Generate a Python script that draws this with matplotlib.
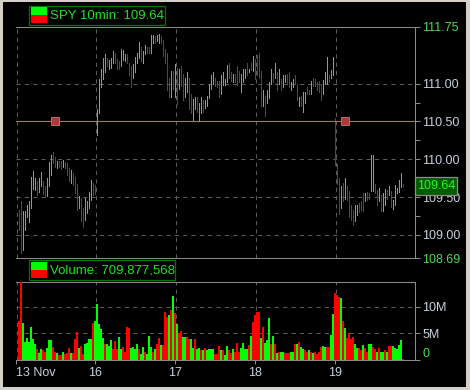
import matplotlib
matplotlib.use("Agg")
import matplotlib.pyplot as plt
from matplotlib.patches import Rectangle
import numpy as np

plt.rcParams['font.family'] = ['Liberation Sans', 'DejaVu Sans']

# SPY 10-minute bars, 13 - 19 Nov: high / low of each bar, G = up bar, R = down bar
hi_13 = [109.33, 109.45, 109.31, 109.31, 109.40, 109.45, 109.77, 109.85, 109.75, 109.71,
         109.75, 109.83, 109.71, 109.65, 109.75, 109.96, 110.06, 110.10, 110.03, 109.98,
         109.98, 109.98, 109.99, 109.96, 109.95, 109.89, 109.86, 109.82, 109.77, 109.67,
         109.51, 109.49, 109.36, 109.49, 109.45, 109.57, 109.73, 109.69, 109.66]
lo_13 = [109.07, 108.76, 108.80, 109.06, 109.24, 109.17, 109.36, 109.61, 109.60, 109.53,
         109.57, 109.64, 109.54, 109.52, 109.52, 109.65, 109.79, 109.95, 109.90, 109.89,
         109.90, 109.87, 109.90, 109.89, 109.79, 109.71, 109.69, 109.66, 109.55, 109.33,
         109.36, 109.19, 109.11, 109.20, 109.29, 109.35, 109.46, 109.53, 109.54]
up_13 = "RRGGGGGGGRGGRRGGGRRGRRGRRRGRRRGRRGGGGRR"

hi_16 = [110.66, 111.06, 111.19, 111.34, 111.39, 111.34, 111.32, 111.34, 111.43, 111.40,
         111.33, 111.30, 111.46, 111.45, 111.39, 111.39, 111.28, 111.24, 111.26, 111.35,
         111.41, 111.55, 111.48, 111.43, 111.51, 111.49, 111.48, 111.64, 111.64, 111.63,
         111.64, 111.66, 111.63, 111.58, 111.46, 111.40, 111.07, 111.17, 111.17, 111.26]
lo_16 = [110.32, 110.61, 110.95, 111.06, 111.15, 111.24, 111.20, 111.21, 111.28, 111.28,
         111.20, 111.19, 111.24, 111.32, 111.30, 111.28, 111.11, 110.95, 111.08, 111.15,
         111.28, 111.34, 111.30, 111.28, 111.39, 111.41, 111.41, 111.40, 111.54, 111.54,
         111.57, 111.54, 111.54, 111.37, 111.28, 110.91, 110.83, 110.83, 110.93, 110.82]
up_16 = "GGGGGRGGGRRRGGGRRRGGGGRGGRRGGRGGRRRRRGRG"

hi_17 = [111.21, 111.20, 111.23, 111.13, 111.07, 111.15, 111.07, 110.86, 110.80, 110.83,
         110.83, 110.75, 110.83, 110.79, 110.78, 110.84, 110.99, 111.11, 111.16, 111.08,
         111.04, 111.03, 111.11, 111.15, 111.06, 111.25, 111.27, 111.16, 111.13, 111.13,
         111.23, 111.17, 111.13, 111.19, 111.19, 111.27, 111.20, 111.27, 111.37]
lo_17 = [110.73, 110.93, 110.97, 110.79, 110.82, 110.89, 110.67, 110.61, 110.51, 110.67,
         110.62, 110.50, 110.61, 110.63, 110.68, 110.71, 110.81, 110.93, 111.00, 110.97,
         110.95, 110.82, 110.86, 110.98, 110.98, 111.02, 111.07, 111.04, 111.02, 111.02,
         110.98, 111.02, 110.89, 111.02, 111.08, 111.11, 111.15, 111.18, 111.17]
up_17 = "RGRRGGRRGGRGGRGGGGGRRRGGGGRRGRRRGGGRGRG"

hi_18 = [111.33, 111.38, 111.41, 111.17, 110.91, 110.84, 110.92, 111.02, 111.19, 111.14,
         111.28, 111.15, 111.19, 111.06, 111.12, 111.11, 111.13, 111.16, 111.02, 111.06,
         111.11, 111.00, 110.83, 110.84, 110.89, 110.89, 110.95, 110.91, 111.04, 111.08,
         111.06, 111.02, 111.03, 111.00, 111.05, 111.16, 111.35, 111.11, 111.18, 111.35]
lo_18 = [111.06, 111.11, 111.07, 110.71, 110.70, 110.57, 110.75, 110.81, 111.00, 111.02,
         111.07, 110.91, 111.00, 110.92, 110.95, 111.02, 111.00, 110.95, 110.91, 110.96,
         110.99, 110.79, 110.70, 110.71, 110.62, 110.74, 110.86, 110.86, 110.86, 110.97,
         110.97, 110.92, 110.89, 110.79, 110.87, 111.00, 111.00, 111.02, 111.07, 111.11]
up_18 = "RRRRGRGGGRGRGRGGRRGGRRGRGGRRGRRRRRGGGRGG"

hi_19 = [110.54, 109.94, 109.75, 109.65, 109.68, 109.75, 109.65, 109.58, 109.39, 109.33,
         109.39, 109.40, 109.42, 109.45, 109.56, 109.55, 109.57, 109.55, 110.05, 110.05,
         109.67, 109.59, 109.62, 109.53, 109.55, 109.61, 109.59, 109.65, 109.58, 109.46,
         109.66, 109.62, 109.72, 109.82, 109.67]
lo_19 = [109.93, 109.67, 109.28, 109.36, 109.45, 109.48, 109.46, 109.24, 109.20, 109.13,
         109.19, 109.26, 109.30, 109.33, 109.32, 109.45, 109.46, 109.47, 109.58, 109.58,
         109.56, 109.40, 109.45, 109.32, 109.32, 109.40, 109.48, 109.53, 109.37, 109.34,
         109.40, 109.55, 109.57, 109.63, 109.64]
up_19 = "RRRGRGRRRRGGRRRGRRGGRRGRGGRGRGGGGGR"

last_price = 109.64

# volume per bar, millions of shares
vol = [7.4, 16.0, 6.9, 3.4, 4.2, 3.4, 6.2, 3.9, 3.0, 2.1,
       1.3, 2.1, 1.8, 1.6, 2.2, 3.7, 3.7, 2.4, 1.6, 1.3,
       0.9, 1.0, 1.6, 1.2, 1.3, 2.3, 1.3, 1.3, 3.9, 5.3,
       2.2, 2.6, 1.2, 3.1, 3.3, 3.9, 3.9, 6.9, 7.4, 10.6,
       6.8, 5.9, 4.1, 3.1, 3.1, 2.6, 3.7, 2.1, 3.6, 2.1,
       4.4, 2.1, 2.4, 1.6, 6.2, 6.0, 2.2, 2.4, 2.1, 3.1,
       2.0, 1.2, 2.4, 1.5, 1.2, 4.6, 2.4, 1.5, 2.1, 3.1,
       4.2, 2.8, 2.9, 9.1, 8.2, 8.5, 9.5, 12.1, 8.8, 6.8,
       5.0, 5.5, 4.4, 4.4, 4.4, 4.0, 3.9, 2.2, 4.0, 2.1,
       2.2, 1.9, 1.9, 2.2, 1.8, 2.1, 2.0, 2.1, 1.2, 1.2,
       2.7, 1.8, 1.8, 1.0, 2.7, 1.8, 1.3, 2.0, 1.5, 3.3,
       1.5, 2.2, 3.3, 2.0, 2.0, 2.8, 4.6, 7.1, 8.5, 9.0,
       9.0, 4.2, 6.2, 3.3, 3.7, 7.9, 3.1, 4.6, 3.1, 1.3,
       1.6, 1.6, 1.5, 1.3, 1.3, 1.3, 1.5, 1.5, 3.0, 3.0,
       3.4, 2.4, 2.1, 1.8, 1.5, 1.8, 1.6, 1.3, 1.6, 1.2,
       1.5, 2.5, 2.7, 2.4, 2.4, 2.4, 4.8, 8.6, 12.6, 12.3,
       11.8, 11.7, 7.3, 6.0, 4.2, 5.1, 3.9, 4.4, 3.1, 2.2,
       2.2, 1.8, 2.9, 2.2, 1.6, 3.1, 3.0, 2.4, 2.1, 1.5,
       2.2, 1.6, 1.6, 1.8, 1.6, 2.6, 2.6, 2.6, 2.3, 2.1,
       2.9, 3.7, 0.1]
vol_up = ("RRGGGGGGGRGGRRGGGRRGRRGRRRGRRRGRRGGGGRGGGGGRGGGRRR"
          "GGRRRRGGGGRGGRGGGRGRRGRRRGRGRGRRGGRRGGRGGRGRGG"
          "GGRRRGRGGRRGRRRGGGGRGRRRRGRGGGRGRGRGGRRRGGRGRGGRRG"
          "RGRRRRGGRRGGRRRGRGRRRRGGRRGRRGGRRGRGGRGRRGGGGGR")
total_volume = 709877568

days = ["13 Nov", "16", "17", "18", "19"]
alert_level = 110.50
alert_bars = [19, 164]

hi = np.array(hi_13 + hi_16 + hi_17 + hi_18 + hi_19)
lo = np.array(lo_13 + lo_16 + lo_17 + lo_18 + lo_19)
up = up_13 + up_16 + up_17 + up_18 + up_19
bars = np.arange(1, len(hi) + 1)

GREEN, RED = '#00ff00', '#ff0000'
GRID, AXC = '#5c5c5c', '#8a8a8a'
LBL, LBL_G = '#c8d0dc', '#50d850'
TXT_G = '#20e020'
DASH = (0, (4, 4))

W, H = 470, 390
fig = plt.figure(figsize=(W / 100, H / 100), dpi=100, facecolor='#d4d0c8')


def frect(x0, y0, x1, y1):
    return [x0 / W, 1 - y1 / H, (x1 - x0) / W, (y1 - y0) / H]


def box(x0, y0, x1, y1, **kw):
    fig.add_artist(Rectangle((x0 / W, 1 - y1 / H), (x1 - x0) / W, (y1 - y0) / H,
                             transform=fig.transFigure, **kw))


box(3, 2, 466, 387, facecolor='black', edgecolor='none', zorder=-10)

day_pos = [-0.5, 39, 79, 119, 159]
xlim = (-0.5, 198.85)

# price panel
ax_p = fig.add_axes(frect(16.3, 27, 415, 258.3), facecolor='black')
ax_p.set_xlim(xlim)
ax_p.set_ylim(108.69, 111.75)
ax_p.vlines(bars, lo, hi, colors=[GREEN if c == 'G' else RED for c in up],
            linewidth=0.5, antialiased=False, zorder=3)
for y in [109.0, 109.5, 110.0, 111.0]:
    ax_p.axhline(y, color=GRID, lw=0.75, ls=DASH, zorder=1)
for d in day_pos:
    ax_p.axvline(d + 0.15, color=GRID, lw=0.75, ls=DASH, zorder=1)
ax_p.axhline(alert_level, color='#e05a5a', lw=0.8, zorder=4)
ax_p.plot(alert_bars, [alert_level] * len(alert_bars), 's', ms=5.2,
          mfc='#a83c3c', mec='#c86464', mew=0.7, zorder=5)

# volume panel
ax_v = fig.add_axes(frect(16.3, 281.7, 415, 360), facecolor='black')
ax_v.set_xlim(xlim)
ax_v.set_ylim(0, 14.77)
ax_v.bar(np.arange(1, len(vol) + 1), vol, width=1.0, linewidth=0,
         color=[GREEN if c == 'G' else RED for c in vol_up], antialiased=False, zorder=3)
for y in [5, 10]:
    ax_v.axhline(y, color=GRID, lw=0.75, ls=DASH, zorder=1)
for d in day_pos:
    ax_v.axvline(d + 0.15, color=GRID, lw=0.75, ls=DASH, zorder=1)

for ax in (ax_p, ax_v):
    ax.spines['left'].set_visible(False)
    for s in ('top', 'bottom', 'right'):
        ax.spines[s].set_color(AXC)
        ax.spines[s].set_linewidth(0.75)
    ax.yaxis.tick_right()
    ax.tick_params(axis='y', which='both', direction='out', length=3.6, width=0.75,
                   color=AXC, labelcolor=LBL, labelsize=9, pad=1.6)

price_ticks = [108.69, 109.0, 109.5, 110.0, 110.5, 111.0, 111.75]
ax_p.set_yticks(price_ticks, labels=[f"{v:.2f}" for v in price_ticks])
ax_p.set_yticks([109.25, 109.75, 110.25, 110.75], minor=True)
for lbl, v in zip(ax_p.get_yticklabels(), price_ticks):
    if v in (108.69, 111.75):
        lbl.set_color(LBL_G)
ax_p.tick_params(axis='x', bottom=False, labelbottom=False)

ax_v.set_yticks([0, 5, 10], labels=["0", "5M", "10M"])
zero = ax_v.get_yticklabels()[0]
zero.set_color(LBL_G)
zero.set_va('bottom')
ax_v.set_xticks(day_pos, labels=days)
ax_v.tick_params(axis='x', direction='out', length=2.6, width=0.75, color=AXC,
                 labelcolor=LBL, labelsize=9, pad=2.2)
ax_v.get_xticklabels()[0].set_ha('left')

# legends
box(29.3, 5.7, 165.3, 25.3, facecolor='black', edgecolor='#007800', lw=0.9)
box(31, 7.5, 47, 15.3, facecolor=GREEN, edgecolor='none')
box(31, 15.3, 47, 23.3, facecolor=RED, edgecolor='none')
fig.text(50.5 / W, 1 - 15.8 / H, f"SPY 10min: {last_price:.2f}", color=TXT_G,
         fontsize=9.5, va='center', ha='left')

box(29.3, 260.2, 174.7, 280, facecolor='black', edgecolor='#007800', lw=0.9)
box(31, 262, 47, 269.7, facecolor=GREEN, edgecolor='none')
box(31, 269.7, 47, 277.7, facecolor=RED, edgecolor='none')
fig.text(50.5 / W, 1 - 270.2 / H, f"Volume: {total_volume:,}", color=TXT_G,
         fontsize=9.5, va='center', ha='left')

# last price tag
box(415.3, 176.7, 457.3, 195.3, facecolor='#005a00', edgecolor='#8c8c8c', lw=0.9, zorder=5)
fig.text(436.5 / W, 1 - 186.2 / H, f"{last_price:.2f}", color='#20ff20',
         fontsize=9, va='center', ha='center', zorder=6)

fig.savefig("out.png", dpi=100, facecolor=fig.get_facecolor())
